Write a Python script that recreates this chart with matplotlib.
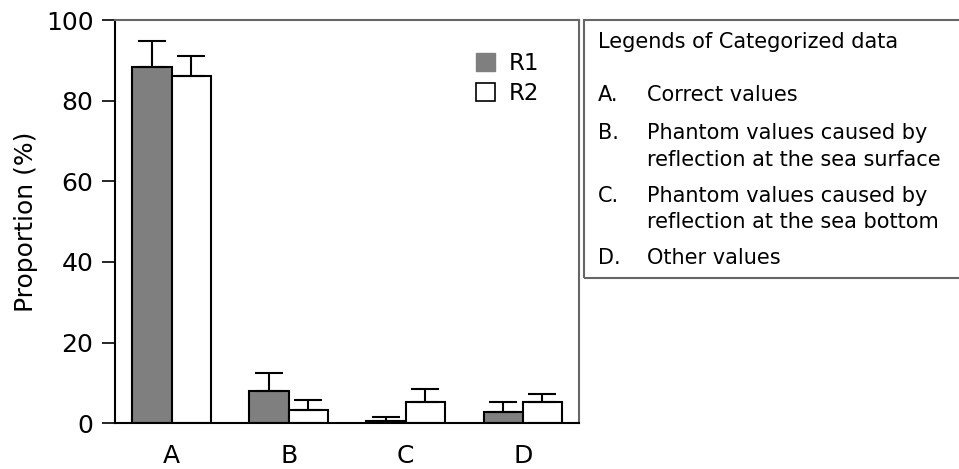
import matplotlib
matplotlib.use('Agg')
import matplotlib.pyplot as plt
from matplotlib.patches import Patch, Rectangle
import numpy as np

# data
categories = ['A', 'B', 'C', 'D']
r1_values = [88.4, 8.0, 0.6, 2.8]
r1_errors = [6.5, 4.5, 1.0, 2.5]
r2_values = [86.2, 3.2, 5.2, 5.2]
r2_errors = [4.8, 2.5, 3.3, 2.0]

legend_keys = ['A.', 'B.', 'C.', 'D.']
legend_texts = [['Correct values'],
                ['Phantom values caused by', 'reflection at the sea surface'],
                ['Phantom values caused by', 'reflection at the sea bottom'],
                ['Other values']]

W, H = 959, 469
fig = plt.figure(figsize=(W / 100, H / 100), dpi=100)

def fx(px):
    return px / W

def fy(py):
    return 1 - py / H

# main axes
ax = fig.add_axes([fx(115), fy(423.3), fx(579) - fx(115), fy(20) - fy(423.3)])

x = np.arange(len(categories))
width = 0.336
err_kw = dict(ecolor='black', elinewidth=1.5, capsize=10, capthick=1.5)
ax.bar(x - width / 2, r1_values, width, color='#7f7f7f', edgecolor='black', linewidth=1.5,
       yerr=[np.zeros(len(r1_errors)), r1_errors], error_kw=err_kw, label='R1')
ax.bar(x + width / 2, r2_values, width, color='white', edgecolor='black', linewidth=1.5,
       yerr=[np.zeros(len(r2_errors)), r2_errors], error_kw=err_kw, label='R2')

ax.set_xlim(-0.485, 3.48)
ax.set_ylim(0, 100)
ax.set_yticks([0, 20, 40, 60, 80, 100])
ax.set_xticks(x)
ax.set_xticklabels(categories)
ax.tick_params(axis='y', labelsize=18, length=9.5, width=1.2, pad=6)
ax.tick_params(axis='x', labelsize=18, length=0, pad=15)
ax.set_ylabel('Proportion (%)', fontsize=18, labelpad=6)

for s in ['left', 'bottom']:
    ax.spines[s].set_linewidth(1.5)
    ax.spines[s].set_color('black')
for s in ['top', 'right']:
    ax.spines[s].set_linewidth(1.5)
    ax.spines[s].set_color('#666666')

handles = [Patch(facecolor='#7f7f7f', edgecolor='#7f7f7f', label='R1'),
           Patch(facecolor='white', edgecolor='black', linewidth=1.2, label='R2')]
ax.legend(handles=handles, loc='upper left', bbox_to_anchor=(0.759, 0.943), frameon=False,
          fontsize=16.5, handlelength=0.8, handleheight=0.85, handletextpad=0.6,
          labelspacing=0.3, borderaxespad=0)

# legend box on the right
box = Rectangle((fx(583.5), fy(277.5)), fx(980) - fx(583.5), fy(19.5) - fy(277.5),
                transform=fig.transFigure, fill=False, edgecolor='#666666', linewidth=1.5,
                clip_on=False)
fig.add_artist(box)

fig.text(fx(598), fy(48.3), 'Legends of Categorized data', fontsize=15, va='baseline')
baselines = [[101], [139.3, 165.7], [201.7, 228], [264.3]]
for key, lines, bl in zip(legend_keys, legend_texts, baselines):
    fig.text(fx(598), fy(bl[0]), key, fontsize=15, va='baseline')
    for line, b in zip(lines, bl):
        fig.text(fx(647), fy(b), line, fontsize=15, va='baseline')

fig.savefig('out.png', dpi=100)
